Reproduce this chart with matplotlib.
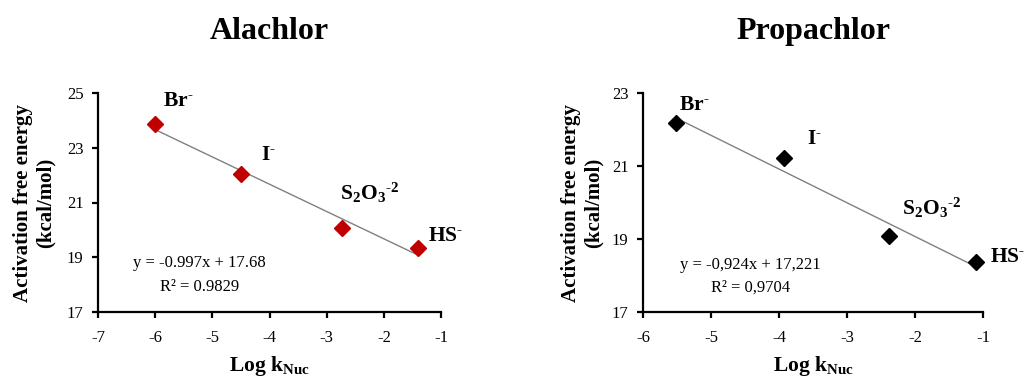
import matplotlib
matplotlib.use("Agg")
import matplotlib.pyplot as plt
import numpy as np

plt.rcParams["font.family"] = ["Liberation Serif", "DejaVu Serif"]
plt.rcParams["mathtext.fontset"] = "custom"
plt.rcParams["mathtext.rm"] = "Liberation Serif:bold"
plt.rcParams["mathtext.it"] = "Liberation Serif:bold"
plt.rcParams["mathtext.bf"] = "Liberation Serif:bold"
plt.rcParams["mathtext.default"] = "rm"
plt.rcParams["axes.unicode_minus"] = False

# Nucleophiles (charges written with a plain hyphen)
nucleophiles = ["Br$^{\u2010}$", "I$^{\u2010}$", "S$_2$O$_3$$^{\u20102}$",
                "HS$^{\u2010}$"]

# Alachlor
alachlor_logk = [-6.0, -4.5, -2.73, -1.40]
alachlor_dg = [23.85, 22.05, 20.08, 19.33]
alachlor_slope, alachlor_icpt = -0.997, 17.68
alachlor_eq = ["y = -0.997x + 17.68", "R\u00b2 = 0.9829"]

# Propachlor
propachlor_logk = [-5.52, -3.92, -2.38, -1.11]
propachlor_dg = [22.18, 21.22, 19.08, 18.36]
propachlor_slope, propachlor_icpt = -0.924, 17.221
propachlor_eq = ["y = -0,924x + 17,221", "R\u00b2 = 0,9704"]

fig = plt.figure(figsize=(10.27, 3.81), dpi=100)
W, H = 1027, 381


def px_axes(x0, x1, ytop, ybot):
    return fig.add_axes([x0 / W, 1 - ybot / H, (x1 - x0) / W, (ybot - ytop) / H])


def panel(ax, title, xs, ys, slope, icpt, color, xlim, ylim, eq, eq_xy,
          label_offsets, ylabelpad):
    xs = np.array(xs)
    xfit = np.array([xs.min(), xs.max()])
    ax.plot(xfit, slope * xfit + icpt, color="#808080", lw=1.0, zorder=2)
    ax.plot(xs, ys, linestyle="none", marker="D", ms=7.8, color=color,
            mec=color, zorder=3, clip_on=False)
    for x, y, lab, (dx, dy) in zip(xs, ys, nucleophiles, label_offsets):
        ax.annotate(lab, (x, y), xytext=(dx * 0.72, dy * 0.72),
                    textcoords="offset points", ha="left", va="baseline",
                    fontsize=15.5, fontweight="bold", annotation_clip=False)
    ax.text(eq_xy[0], eq_xy[1], eq[0] + "\n" + eq[1], ha="center",
            va="center", fontsize=12, linespacing=1.6)
    ax.set_xlim(*xlim)
    ax.set_ylim(*ylim)
    ax.set_xticks(np.arange(xlim[0], xlim[1] + 1, 1))
    ax.set_yticks(np.arange(ylim[0], ylim[1] + 1, 2))
    for s in ("top", "right"):
        ax.spines[s].set_visible(False)
    for s in ("left", "bottom"):
        ax.spines[s].set_linewidth(1.6)
    ax.tick_params(axis="both", direction="out", length=4.5, width=1.6,
                   labelsize=12)
    ax.tick_params(axis="y", pad=6)
    ax.tick_params(axis="x", pad=8.5)
    ax.set_xlabel(r"Log k$_{\mathrm{Nuc}}$", fontsize=15.5, fontweight="bold",
                  labelpad=6)
    ax.set_ylabel("Activation free energy\n(kcal/mol)", fontsize=15,
                  fontweight="bold", labelpad=ylabelpad, linespacing=1.15)
    ax.set_title(title, fontsize=23, fontweight="bold", pad=39)


ax1 = px_axes(98, 441, 93, 312)
panel(ax1, "Alachlor", alachlor_logk, alachlor_dg, alachlor_slope,
      alachlor_icpt, "#C00000", (-7, -1), (17, 25), alachlor_eq,
      (-5.22, 18.35),
      [(8, 18), (20, 14), (-2, 28), (10, 7)], 8)

ax2 = px_axes(643, 983, 93, 312)
panel(ax2, "Propachlor", propachlor_logk, propachlor_dg, propachlor_slope,
      propachlor_icpt, "black", (-6, -1), (17, 23), propachlor_eq,
      (-4.42, 17.98),
      [(3, 13), (23, 14), (13, 21), (14, 0)], 6)

fig.savefig("out.png", dpi=100)
